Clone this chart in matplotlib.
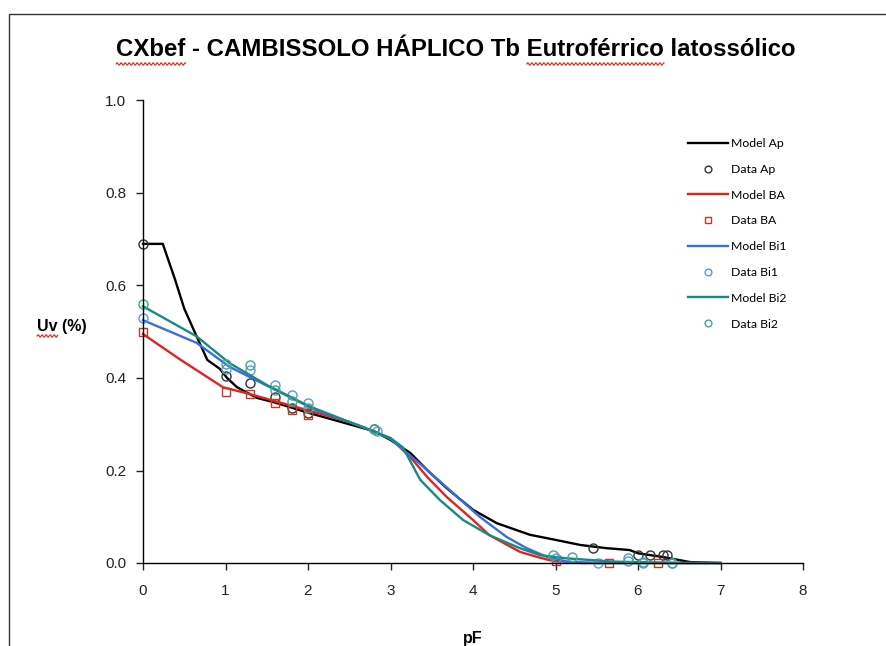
import numpy as np
import matplotlib
matplotlib.use("Agg")
import matplotlib.pyplot as plt
from matplotlib.patches import Rectangle
from matplotlib.lines import Line2D

# ---- data ----
ap_model_x = [0, 0.24, 0.39, 0.5, 0.67, 0.78, 0.93, 1.02, 1.14, 1.38, 1.58, 2.0, 2.5, 2.8, 3.0,
              3.24, 3.45, 3.68, 4.0, 4.29, 4.69, 5.0, 5.3, 5.62, 5.9, 6.0, 6.3, 6.63, 7.0]
ap_model_y = [0.69, 0.69, 0.612, 0.55, 0.482, 0.439, 0.42, 0.40, 0.38, 0.357, 0.348, 0.325, 0.30,
              0.285, 0.266, 0.238, 0.20, 0.162, 0.115, 0.086, 0.061, 0.05, 0.039, 0.032, 0.028,
              0.021, 0.013, 0.002, 0.0]
ap_data_x = [0, 1.0, 1.3, 1.6, 1.8, 2.0, 2.8, 5.45, 6.0, 6.15, 6.3, 6.35]
ap_data_y = [0.69, 0.405, 0.39, 0.36, 0.335, 0.325, 0.29, 0.032, 0.017, 0.017, 0.017, 0.017]

ba_model_x = [0, 0.45, 0.97, 1.3, 1.6, 2.0, 2.5, 3.0, 3.24, 3.45, 3.68, 4.0, 4.2, 4.57, 4.78,
              4.93, 5.3, 7.0]
ba_model_y = [0.495, 0.44, 0.38, 0.365, 0.35, 0.33, 0.305, 0.27, 0.229, 0.185, 0.143, 0.093,
              0.06, 0.024, 0.013, 0.006, 0.0, 0.0]
ba_data_x = [0, 1.0, 1.3, 1.6, 1.8, 2.0, 5.0, 5.65, 6.24]
ba_data_y = [0.50, 0.37, 0.365, 0.345, 0.33, 0.32, 0.005, 0.0, 0.0]

bi1_model_x = [0, 0.65, 1.05, 1.54, 2.1, 2.67, 3.0, 3.2, 3.4, 3.76, 4.08, 4.41, 4.65, 4.9, 5.14,
               5.5, 7.0]
bi1_model_y = [0.525, 0.476, 0.424, 0.38, 0.33, 0.294, 0.268, 0.238, 0.208, 0.151, 0.10, 0.056,
               0.032, 0.013, 0.003, 0.0, 0.0]
bi1_data_x = [0, 1.0, 1.3, 1.6, 1.8, 2.0, 2.84, 5.0, 5.52, 5.88, 6.06, 6.41]
bi1_data_y = [0.53, 0.42, 0.417, 0.385, 0.363, 0.346, 0.285, 0.01, 0.0, 0.005, 0.0, 0.0]

bi2_model_x = [0, 0.65, 1.05, 1.5, 2.0, 2.5, 3.0, 3.15, 3.36, 3.6, 3.88, 4.2, 4.57, 4.81, 5.14,
               5.7, 6.5, 7.0]
bi2_model_y = [0.555, 0.49, 0.432, 0.385, 0.34, 0.305, 0.27, 0.25, 0.18, 0.136, 0.093, 0.06,
               0.032, 0.017, 0.01, 0.003, 0.0, 0.0]
bi2_data_x = [0, 1.0, 1.3, 1.6, 1.8, 2.0, 2.8, 4.97, 5.2, 5.88, 6.06, 6.41]
bi2_data_y = [0.56, 0.43, 0.428, 0.375, 0.35, 0.335, 0.29, 0.017, 0.013, 0.01, 0.003, 0.0]

x_ticks = [0, 1, 2, 3, 4, 5, 6, 7, 8]
y_ticks = [0.0, 0.2, 0.4, 0.6, 0.8, 1.0]

title = "CXbef - CAMBISSOLO HÁPLICO Tb Eutroférrico latossólico"
flagged_title_words = ["CXbef", "Eutroférrico"]
ylabel = "Uv (%)"
flagged_ylabel_words = ["Uv"]

# ---- figure ----
plt.rcParams['font.family'] = ['Liberation Sans', 'DejaVu Sans']
W, H = 886, 646
fig = plt.figure(figsize=(W / 100, H / 100), dpi=100)
fig.patch.set_facecolor('white')

# outer frame (chart area border, cut at right and bottom)
fig.add_artist(Rectangle((9 / W, -0.1), 1.5, 1.1 - 14 / H, transform=fig.transFigure,
                         fill=False, edgecolor='#333333', lw=1.0))

ax = fig.add_axes([143 / W, 1 - 563 / H, (803 - 143) / W, (563 - 100.5) / H])

c_black = 'black'
c_red = '#e5231d'
c_blue = '#3a6de0'
c_teal = '#178a82'
m_blue = '#5b9bd5'
m_teal = '#3fa896'

lw = 1.7
ms = 6.5
ax.plot(ap_model_x, ap_model_y, color=c_black, lw=lw, label='Model Ap')
ax.plot(ap_data_x, ap_data_y, ls='none', marker='o', ms=ms, mfc='none', mec='#333333', mew=1.0,
        label='Data Ap')
ax.plot(ba_model_x, ba_model_y, color=c_red, lw=lw, label='Model BA')
ax.plot(ba_data_x, ba_data_y, ls='none', marker='s', ms=ms - 0.5, mfc='none', mec='#c0392b',
        mew=1.0, label='Data BA')
ax.plot(bi1_model_x, bi1_model_y, color=c_blue, lw=lw, label='Model Bi1')
ax.plot(bi1_data_x, bi1_data_y, ls='none', marker='o', ms=ms, mfc='none', mec=m_blue, mew=1.0,
        label='Data Bi1')
ax.plot(bi2_model_x, bi2_model_y, color=c_teal, lw=lw, label='Model Bi2')
ax.plot(bi2_data_x, bi2_data_y, ls='none', marker='o', ms=ms, mfc='none', mec=m_teal, mew=1.0,
        label='Data Bi2')

ax.set_xlim(0, 8)
ax.set_ylim(0, 1.0)
ax.set_xticks(x_ticks)
ax.set_yticks(y_ticks)
ax.set_xticklabels([str(v) for v in x_ticks])
ax.set_yticklabels([f"{v:.1f}" for v in y_ticks])
for s in ['top', 'right']:
    ax.spines[s].set_visible(False)
for s in ['left', 'bottom']:
    ax.spines[s].set_linewidth(1.0)
    ax.spines[s].set_color('black')
ax.tick_params(axis='both', direction='out', length=5, width=1.0, labelsize=11,
               colors='#222222')
ax.tick_params(axis='x', pad=10)
ax.tick_params(axis='y', pad=7)
for ln in ax.lines:
    ln.set_clip_on(False)

# title and axis labels
t_title = fig.text(456 / W, 1 - 50 / H, title, ha='center', va='center', fontsize=17.3,
                   fontweight='bold')
t_ylab = fig.text(62 / W, 1 - 326 / H, ylabel, ha='center', va='center', fontsize=11.5,
                  fontweight='bold')
fig.text(473 / W, 1 - 638 / H, "pF", ha='center', va='center', fontsize=11.5,
         fontweight='bold')

# legend
leg = ax.legend(loc='upper left', bbox_to_anchor=(688 / W, 1 - 138 / H),
                bbox_transform=fig.transFigure, frameon=False,
                prop={'family': ['Lato', 'DejaVu Sans'], 'size': 8.8},
                handlelength=3.3, handletextpad=0.25, labelspacing=1.21,
                borderpad=0, borderaxespad=0, markerscale=0.75)


# spell-check style red wavy underlines below flagged words
def squiggle(text_artist, words):
    fig.canvas.draw()
    r = fig.canvas.get_renderer()
    full = text_artist.get_text()
    bb = text_artist.get_window_extent(r)
    props = dict(fontsize=text_artist.get_fontsize(), fontweight=text_artist.get_fontweight(),
                 family=text_artist.get_fontfamily())
    def width(s):
        if not s:
            return 0.0
        tmp = fig.text(0, 0, s, **props)
        w = tmp.get_window_extent(r).width
        tmp.remove()
        return w
    for wd in words:
        i = full.find(wd)
        x0 = bb.x0 + width(full[:i])
        x1 = x0 + width(wd)
        xs = np.linspace(x0, x1, max(int((x1 - x0) * 2), 2))
        ys = bb.y0 - 2.5 + 1.2 * np.sin((xs - x0) * 2 * np.pi / 4.0)
        fig.add_artist(Line2D(xs / W, ys / H, transform=fig.transFigure, color='#e0201b',
                              lw=0.8))


squiggle(t_title, flagged_title_words)
squiggle(t_ylab, flagged_ylabel_words)

fig.savefig("out.png", dpi=100, facecolor='white')
